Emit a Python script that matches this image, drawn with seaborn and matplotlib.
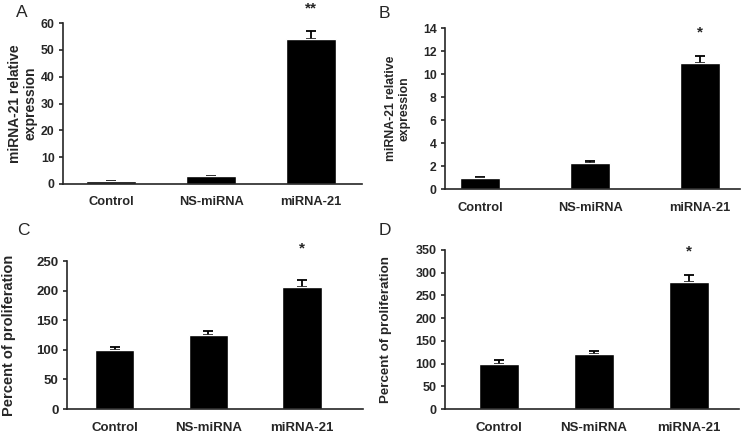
import numpy as np
import pandas as pd
import matplotlib
matplotlib.use('Agg')
import matplotlib.pyplot as plt
import seaborn as sns

# groups shared by all four panels
groups = ['Control', 'NS-miRNA', 'miRNA-21']

# panel A: miRNA-21 expression
a_mean = [1.1, 2.8, 54.0]
a_err = [0.2, 0.3, 3.0]
# panel B: miRNA-21 expression
b_mean = [1.0, 2.3, 11.0]
b_err = [0.05, 0.12, 0.6]
# panel C: proliferation
c_mean = [100, 125, 207]
c_err = [5, 7, 12]
# panel D: proliferation
d_mean = [100, 120, 280]
d_err = [7, 8, 15]

expr_label = 'miRNA-21 relative\nexpression'
prolif_label = 'Percent of proliferation'

sns.set_theme(style='ticks')
plt.rcParams['font.family'] = ['Liberation Sans', 'DejaVu Sans']

fig = plt.figure(figsize=(7.54, 4.36), dpi=100)

panels = [
    # letter, mean, err, ylabel, yticks, star, rect, xlim, width,
    # star gap, letter pos, ylabel size, ylabel x, ytick size, xtick size
    ('A', a_mean, a_err, expr_label, np.arange(0, 61, 10), '**',
     [0.0836, 0.578, 0.3966, 0.369], (-0.48, 2.51), 0.5, 0.10, (16, 5),
     10, -0.084, 8.8, 9.3),
    ('B', b_mean, b_err, expr_label, np.arange(0, 15, 2), '*',
     [0.590, 0.5665, 0.391, 0.369], (-0.32, 2.36), 0.37, 0.10, (379, 6),
     8.8, -0.115, 8.8, 9.3),
    ('C', c_mean, c_err, prolif_label, np.arange(0, 251, 50), '*',
     [0.0889, 0.0619, 0.3926, 0.339], (-0.51, 2.65), 0.42, 0.16, (17, 223),
     10.5, -0.172, 9.5, 9.5),
    ('D', d_mean, d_err, prolif_label, np.arange(0, 351, 50), '*',
     [0.590, 0.0619, 0.390, 0.365], (-0.57, 2.53), 0.42, 0.10, (379, 223),
     9.6, -0.18, 9.0, 9.5),
]

W, H = 754, 436

for (letter, mean, err, ylabel, yticks, star, rect, xlim, width,
     gap, lpos, lsize, lx, ysize, xsize) in panels:
    ax = fig.add_axes(rect)
    df = pd.DataFrame({'group': groups, 'value': mean})
    sns.barplot(data=df, x='group', y='value', color='black', width=width,
                saturation=1, errorbar=None, ax=ax, zorder=2)
    ax.errorbar(np.arange(len(groups)), mean, yerr=[np.zeros(len(err)), err],
                fmt='none', ecolor='black', elinewidth=1.3, capsize=3.5,
                capthick=1.3, zorder=1)
    ax.set_xlim(*xlim)
    ax.set_ylim(0, yticks[-1])
    ax.set_yticks(yticks)
    ax.set_xlabel('')
    ax.set_ylabel(ylabel, fontsize=lsize, fontweight='bold')
    ax.yaxis.set_label_coords(lx, 0.5)
    sns.despine(ax=ax)
    ax.spines['left'].set_linewidth(1.2)
    ax.spines['bottom'].set_linewidth(1.2)
    ax.tick_params(axis='y', length=3, width=1.2, labelsize=ysize, pad=3)
    ax.tick_params(axis='x', length=0, labelsize=xsize, pad=9)
    for lab in ax.get_xticklabels() + ax.get_yticklabels():
        lab.set_fontweight('bold')
    # significance star above the last bar
    top = mean[-1] + err[-1]
    ax.text(2, top + yticks[-1] * gap, star, ha='center', va='bottom',
            fontsize=11, fontweight='bold')
    # panel letter
    fig.text(lpos[0] / W, 1 - lpos[1] / H, letter, fontsize=12.5,
             ha='left', va='top')

fig.savefig('out.png', dpi=100)
